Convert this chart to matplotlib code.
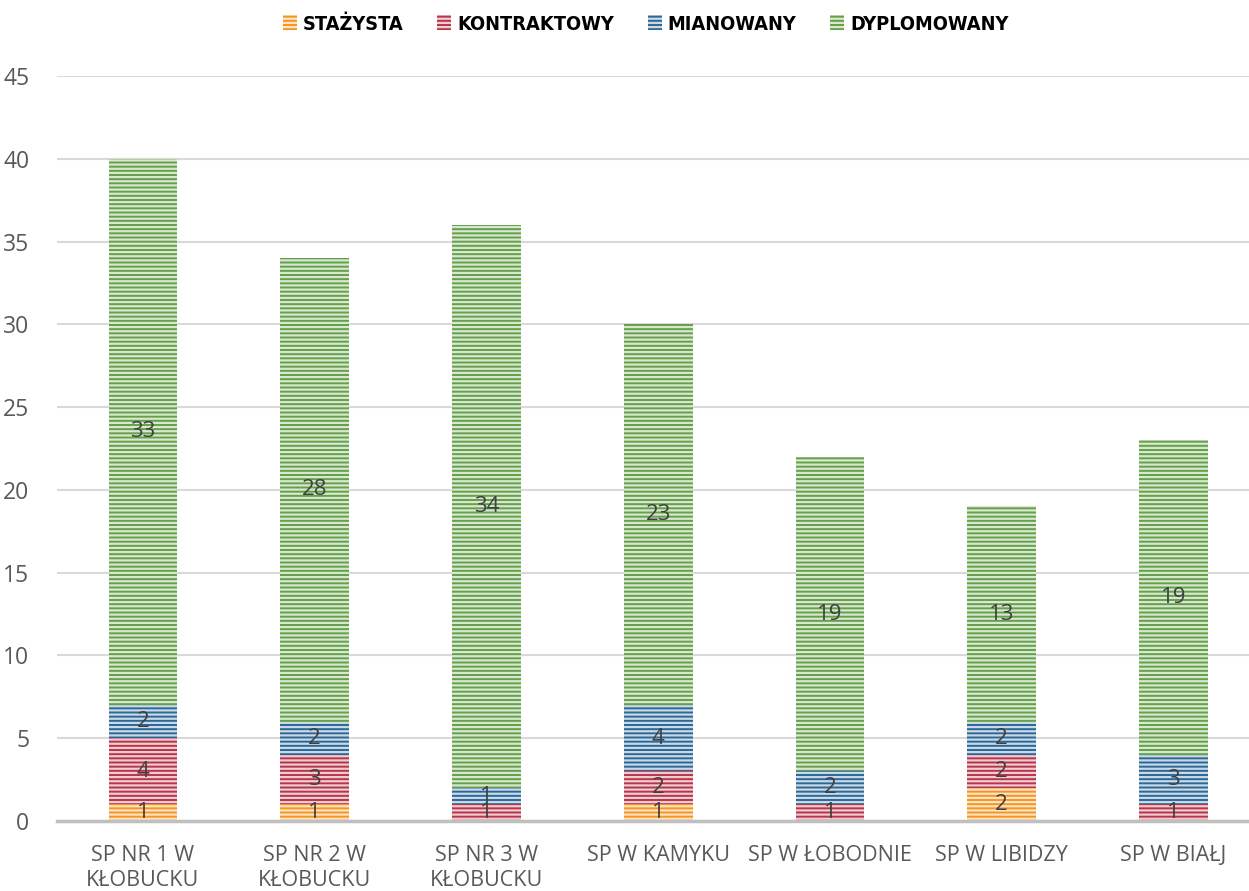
import matplotlib
matplotlib.use("Agg")
import matplotlib.pyplot as plt
import numpy as np
from matplotlib.colors import to_rgb

categories = ["SP NR 1 W\nKŁOBUCKU", "SP NR 2 W\nKŁOBUCKU", "SP NR 3 W\nKŁOBUCKU",
              "SP W KAMYKU", "SP W ŁOBODNIE", "SP W LIBIDZY", "SP W BIAŁJ"]
series_names = ["STAŻYSTA", "KONTRAKTOWY", "MIANOWANY", "DYPLOMOWANY"]
stazysta = [1, 1, 0, 1, 0, 2, 0]
kontraktowy = [4, 3, 1, 2, 1, 2, 1]
mianowany = [2, 2, 1, 4, 2, 2, 3]
dyplomowany = [33, 28, 34, 23, 19, 13, 19]
yticks = [0, 5, 10, 15, 20, 25, 30, 35, 40, 45]

colors = ["#F7941D", "#B8344A", "#2A6898", "#64A047"]

def lighten(c, f=0.7):
    r, g, b = to_rgb(c)
    return (r + (1 - r) * f, g + (1 - g) * f, b + (1 - b) * f)

plt.rcParams['font.family'] = ['Open Sans', 'DejaVu Sans']
plt.rcParams['hatch.linewidth'] = 1.6

fig = plt.figure(figsize=(12.49, 8.91), dpi=100)
ax = fig.add_axes([57 / 1249, 1 - 821 / 891, 1 - 57 / 1249, (821 - 76) / 891])

x = np.arange(len(categories))
bottom = np.zeros(len(categories))
handles = []
for name, vals, col in zip(series_names, [stazysta, kontraktowy, mianowany, dyplomowany], colors):
    vals = np.array(vals, dtype=float)
    bars = ax.bar(x, vals, 0.4, bottom=bottom, color=col, edgecolor=lighten(col, 0.75),
                  linewidth=0, hatch='----', zorder=3, label=name)
    handles.append(bars)
    for xi, v, b in zip(x, vals, bottom):
        if v > 0:
            ax.text(xi, b + v / 2, f"{int(v)}", ha='center', va='center',
                    fontsize=16, color='#404040', zorder=5)
    bottom += vals

ax.set_xlim(-0.5, 6.44)
ax.set_ylim(0, 45)
ax.set_yticks(yticks)
ax.set_xticks(x)
ax.set_xticklabels(categories, fontsize=15.5, color='#595959', linespacing=1.3)
ax.tick_params(axis='y', labelsize=16.5, labelcolor='#595959', length=0, pad=20)
ax.tick_params(axis='x', length=0, pad=17)
ax.grid(axis='y', color='#D9D9D9', linewidth=1.5, zorder=0)
for s in ['top', 'right', 'left']:
    ax.spines[s].set_visible(False)
ax.spines['bottom'].set_color('#BFBFBF')
ax.spines['bottom'].set_linewidth(2.5)
ax.spines['bottom'].set_zorder(4)

leg = fig.legend(handles=handles, labels=series_names, loc='center', bbox_to_anchor=(0.517, 1 - 24 / 891),
                 ncol=4, frameon=False, handlelength=0.7, handleheight=0.8, handletextpad=0.3,
                 columnspacing=1.7, prop={'family': ['DejaVu Sans', 'DejaVu Sans'],
                                          'stretch': 'condensed',
                                          'weight': 'bold', 'size': 14.3})

fig.savefig("out.png", dpi=100)
